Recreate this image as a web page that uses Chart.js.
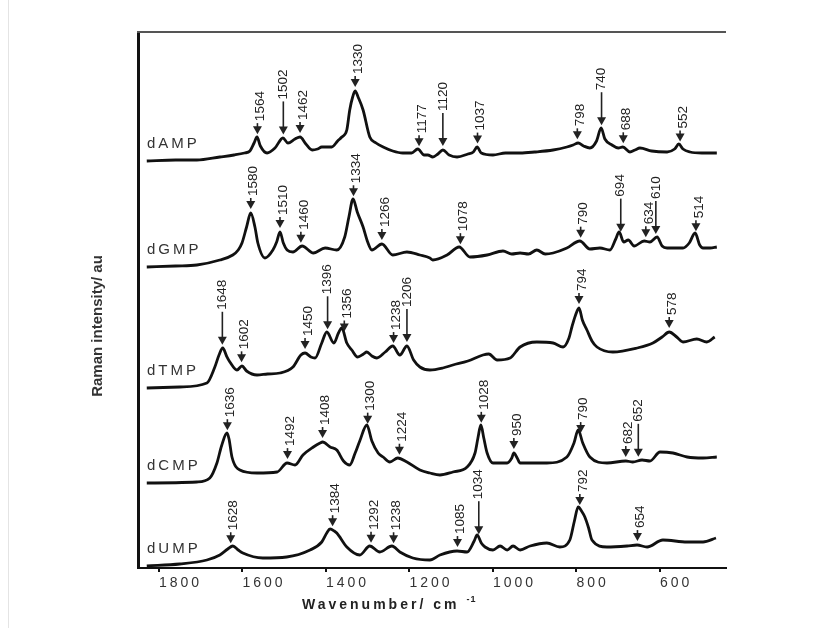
<!DOCTYPE html>
<html>
<head>
<meta charset="utf-8">
<script src="https://cdn.jsdelivr.net/npm/chart.js@4.4.1/dist/chart.umd.min.js"></script>
<style>
  html, body { margin: 0; padding: 0; background: #fff; }
</style>
</head>
<body>
<canvas id="chart" width="813" height="628"></canvas>
<script>
// Raman spectra of the five deoxynucleotides, stacked (intensity in arbitrary units)
const seriesNames = ['dAMP', 'dGMP', 'dTMP', 'dCMP', 'dUMP'];
const offsets = [407, 301, 180, 85, 2];
const tickValues = [1800, 1600, 1400, 1200, 1000, 800, 600];

const dampWn = [1829,1760,1709,1654,1620,1595,1582,1572,1565,1557,1541,1522,1503,1491,1474,1462,1448,1433,1420,1410,1386,1372,1362,1350,1343,1336,1330,1323,1311,1295,1280,1263,1240,1216,1195,1180,1165,1156,1144,1132,1120,1105,1086,1060,1047,1038,1028,1000,970,935,900,856,823,808,796,783,768,752,741,732,715,700,689,672,660,648,620,583,565,555,545,528,500,464];
const dampInt = [0,1,1,4,6,8,10,18,24,15,8,13,23,18,22,24,17,11,12,14,14,20,24,31,51,64,70,64,51,24,18,14,10,8,8,12,6,6,4,7,11,6,4,7,9,14,8,6,8,8,9,11,14,16,18,15,13,20,33,22,16,13,14,9,11,13,10,9,12,17,12,9,8,8];

const dgmpWn = [1829,1760,1709,1654,1623,1610,1601,1590,1580,1570,1563,1546,1527,1518,1510,1502,1493,1479,1457,1430,1402,1374,1355,1345,1335,1325,1311,1300,1290,1266,1240,1206,1175,1151,1144,1110,1081,1055,1014,976,955,935,915,895,875,856,823,792,768,744,720,706,698,687,676,662,638,624,607,595,583,545,530,516,505,497,480,464];
const dgmpInt = [0,1,2,7,12,17,24,40,54,40,24,9,17,25,35,24,17,15,21,14,19,17,30,50,68,55,40,25,17,23,12,15,12,9,7,12,20,10,12,16,13,14,13,17,13,14,19,26,18,19,17,28,35,25,27,21,26,25,30,21,19,19,24,34,22,19,19,20];

const dtmpWn = [1829,1750,1685,1666,1656,1647,1638,1630,1613,1601,1590,1565,1540,1510,1479,1460,1450,1436,1426,1410,1398,1381,1370,1362,1350,1338,1324,1310,1302,1290,1278,1258,1240,1223,1206,1190,1175,1151,1120,1096,1060,1024,1010,990,959,935,895,856,832,818,811,803,794,786,775,763,751,713,655,617,595,578,560,545,512,488,469];
const dtmpInt = [0,1,5,21,33,40,32,26,18,22,17,13,14,15,21,33,35,31,30,45,56,45,55,60,45,38,31,34,36,32,30,36,42,33,42,28,21,18,20,23,27,33,34,28,30,41,46,45,41,50,61,72,80,68,58,47,41,36,40,45,51,56,51,46,49,46,51];

const dcmpWn = [1829,1709,1678,1661,1650,1637,1632,1625,1606,1565,1517,1493,1474,1455,1430,1414,1408,1390,1374,1358,1343,1330,1319,1302,1290,1275,1263,1247,1228,1206,1175,1151,1127,1096,1062,1043,1036,1029,1022,1014,1000,966,955,950,942,935,871,823,806,796,785,768,727,682,665,643,624,600,569,535,497,464];
const dcmpInt = [0,1,5,20,37,50,44,26,13,10,11,20,18,28,36,40,41,36,33,22,18,30,42,58,42,30,26,21,25,21,13,10,8,11,16,30,45,58,45,30,20,20,25,30,25,20,20,26,40,53,40,26,20,22,21,23,22,31,30,26,25,26];

const dumpWn = [1829,1750,1685,1654,1635,1623,1610,1599,1551,1494,1438,1410,1398,1390,1380,1374,1350,1319,1295,1271,1242,1223,1192,1151,1127,1086,1062,1045,1038,1028,1019,1000,983,966,952,935,911,871,840,816,805,796,788,780,771,763,727,679,655,631,593,535,497,466];
const dumpInt = [0,2,6,11,17,20,16,13,8,9,16,24,33,37,35,33,19,11,20,14,20,14,8,6,11,15,14,25,31,23,19,16,20,16,20,16,20,23,19,26,45,59,55,49,38,26,19,20,21,19,26,24,24,28];

// labelled bands, and which of them get the long arrow
const dampPeaks = [1564, 1502, 1462, 1330, 1177, 1120, 1037, 798, 740, 688, 552];
const dampLong = [1502, 1120, 740];
const dgmpPeaks = [1580, 1510, 1460, 1334, 1266, 1078, 790, 694, 634, 610, 514];
const dgmpLong = [694, 610];
const dtmpPeaks = [1648, 1602, 1450, 1396, 1356, 1238, 1206, 794, 578];
const dtmpLong = [1648, 1396, 1206];
const dcmpPeaks = [1636, 1492, 1408, 1300, 1224, 1028, 950, 790, 682, 652];
const dcmpLong = [652];
const dumpPeaks = [1628, 1384, 1292, 1238, 1085, 1034, 792, 654];
const dumpLong = [1034];

const spectra = [
  { wn: dampWn, val: dampInt, peaks: dampPeaks, long: dampLong },
  { wn: dgmpWn, val: dgmpInt, peaks: dgmpPeaks, long: dgmpLong },
  { wn: dtmpWn, val: dtmpInt, peaks: dtmpPeaks, long: dtmpLong },
  { wn: dcmpWn, val: dcmpInt, peaks: dcmpPeaks, long: dcmpLong },
  { wn: dumpWn, val: dumpInt, peaks: dumpPeaks, long: dumpLong },
];

function interp(wn, val, w) {
  for (let k = 0; k < wn.length - 1; k++) {
    if (w <= wn[k] && w >= wn[k + 1]) {
      const t = (wn[k] - w) / (wn[k] - wn[k + 1]);
      return val[k] + t * (val[k + 1] - val[k]);
    }
  }
  return val[val.length - 1];
}

const FONT = 'Arial, "Liberation Sans", Helvetica, sans-serif';

const decor = {
  id: 'decor',
  beforeDraw(chart) {
    chart.ctx.letterSpacing = '3px'; // spaced-out tick labels
  },
  afterDatasetsDraw(chart) {
    const ctx = chart.ctx, xs = chart.scales.x, ys = chart.scales.y;
    const area = chart.chartArea;
    ctx.save();
    ctx.letterSpacing = '0px';
    ctx.fillStyle = '#222';
    ctx.strokeStyle = '#222';
    ctx.font = '13.5px ' + FONT;
    spectra.forEach((s, i) => {
      s.peaks.forEach(p => {
        const x = xs.getPixelForValue(p);
        const tip = ys.getPixelForValue(offsets[i] + interp(s.wn, s.val, p)) - 4;
        const isLong = s.long.includes(p);
        ctx.beginPath();
        ctx.moveTo(x, tip);
        ctx.lineTo(x - 4.5, tip - 8);
        ctx.lineTo(x + 4.5, tip - 8);
        ctx.closePath();
        ctx.fill();
        const stemTop = tip - (isLong ? 33 : 11);
        ctx.lineWidth = 1.6;
        ctx.beginPath();
        ctx.moveTo(x, tip - 7);
        ctx.lineTo(x, stemTop);
        ctx.stroke();
        ctx.save();
        ctx.translate(isLong ? x : x + 3, stemTop - 2);
        ctx.rotate(-Math.PI / 2);
        ctx.textAlign = 'left';
        ctx.textBaseline = 'middle';
        ctx.fillText(String(p), 0, 0);
        ctx.restore();
      });
    });

    // series names
    ctx.font = '15px ' + FONT;
    ctx.letterSpacing = '3px';
    ctx.fillStyle = '#333';
    ctx.textAlign = 'left';
    ctx.textBaseline = 'middle';
    seriesNames.forEach((name, i) => {
      ctx.fillText(name, area.left + 9, ys.getPixelForValue(offsets[i]) - 17);
    });
    ctx.restore();
  },
  afterDraw(chart) {
    const ctx = chart.ctx;
    const area = chart.chartArea;
    ctx.save();
    ctx.letterSpacing = '0px';
    // frame: left and top lines
    ctx.fillStyle = '#111';
    ctx.fillRect(area.left - 1, area.top, 3, area.bottom - area.top + 1);
    ctx.fillStyle = '#555';
    ctx.fillRect(area.left - 1, area.top - 1, area.right - area.left + 1, 2);
    // faint page edge at far left
    ctx.fillStyle = '#e4e4e4';
    ctx.fillRect(8, 0, 1, chart.height);

    // y title
    ctx.save();
    ctx.translate(98, 326);
    ctx.rotate(-Math.PI / 2);
    ctx.font = 'bold 15px ' + FONT;
    ctx.fillStyle = '#333';
    ctx.textAlign = 'center';
    ctx.textBaseline = 'middle';
    ctx.fillText('Raman intensity/ au', 0, 0);
    ctx.restore();

    // x title with superscript
    ctx.font = 'bold 14px ' + FONT;
    ctx.letterSpacing = '3px';
    ctx.fillStyle = '#222';
    ctx.textAlign = 'left';
    ctx.textBaseline = 'middle';
    const main = 'Wavenumber/ cm';
    ctx.fillText(main, 302, 605);
    const w = ctx.measureText(main).width;
    ctx.font = 'bold 9px ' + FONT;
    ctx.letterSpacing = '1px';
    ctx.fillText('-1', 302 + w + 7, 600);
    ctx.restore();
  }
};

const datasets = spectra.map((s, i) => ({
  label: seriesNames[i],
  data: s.wn.map((w, k) => ({ x: w, y: offsets[i] + s.val[k] })),
  borderColor: '#111',
  borderWidth: 2.8,
  pointRadius: 0,
  fill: false,
  cubicInterpolationMode: 'monotone',
}));

new Chart(document.getElementById('chart'), {
  type: 'line',
  data: { datasets: datasets },
  options: {
    responsive: false,
    animation: false,
    devicePixelRatio: 1,
    layout: { padding: { left: 138, right: 87, top: 32, bottom: 30 } },
    plugins: { legend: { display: false }, tooltip: { enabled: false } },
    scales: {
      x: {
        type: 'linear',
        reverse: true,
        min: 442,
        max: 1850,
        afterBuildTicks: scale => { scale.ticks = tickValues.map(v => ({ value: v })); },
        afterFit: scale => { scale.height = 30; },
        grid: { drawOnChartArea: false, drawTicks: true, tickLength: 4, color: '#111', lineWidth: 2 },
        border: { display: true, color: '#111', width: 2 },
        ticks: {
          align: 'start',
          padding: 3,
          color: '#333',
          font: { family: FONT, size: 14 },
          callback: v => String(v),
        },
      },
      y: {
        display: false,
        min: 0,
        max: 536,
      },
    },
  },
  plugins: [decor],
});
</script>
</body>
</html>
